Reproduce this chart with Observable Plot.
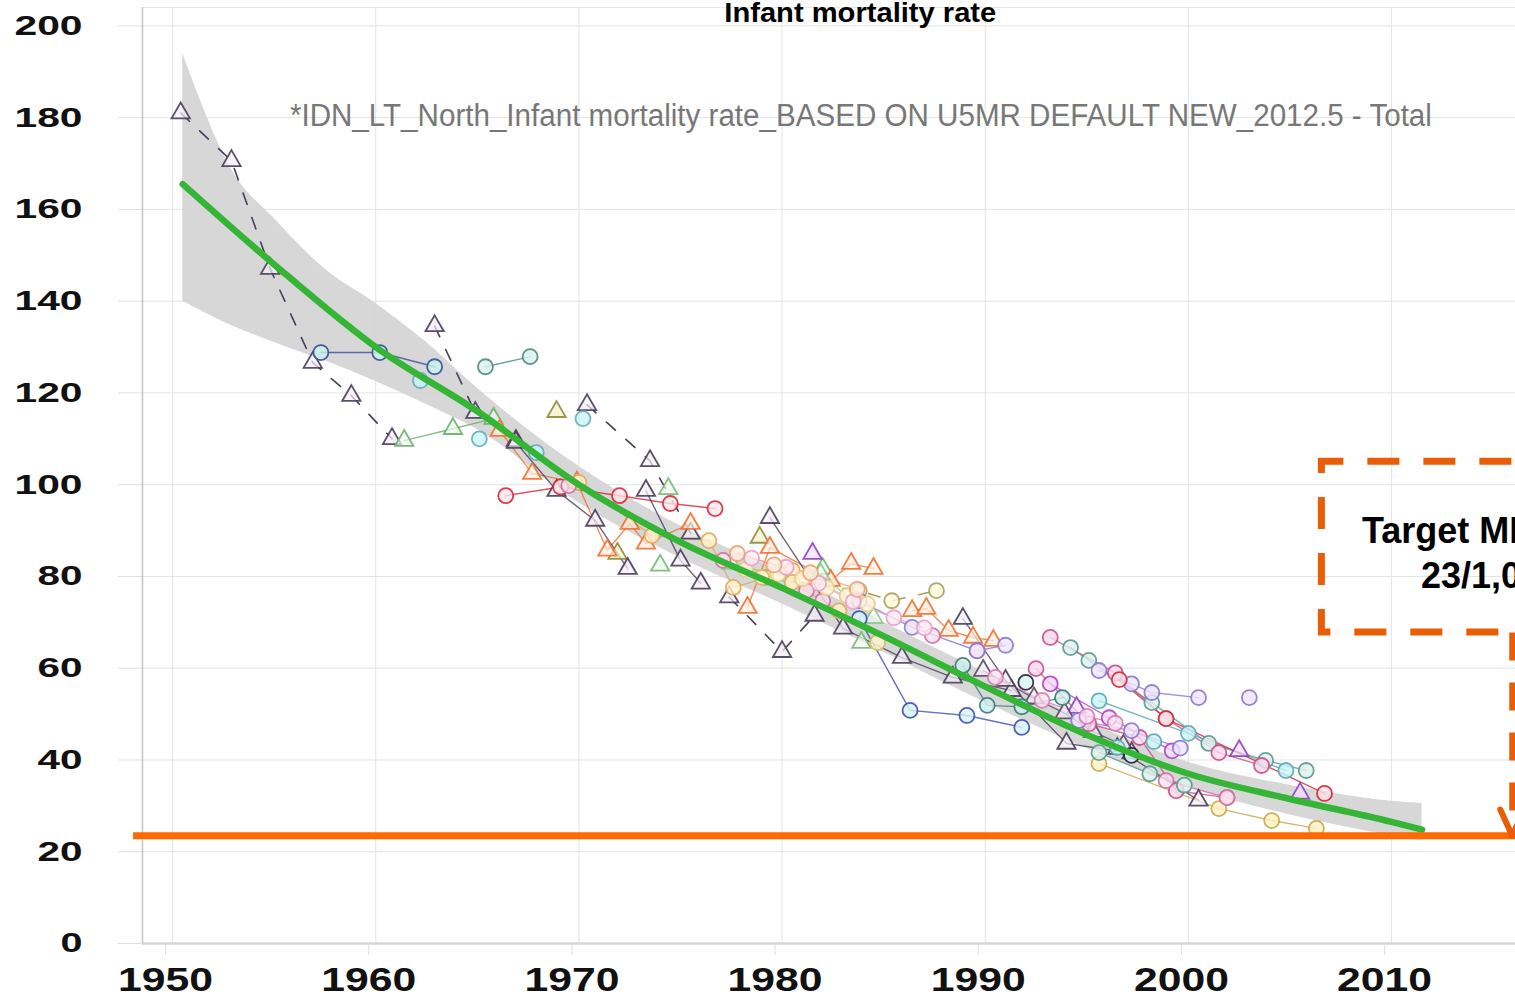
<!DOCTYPE html>
<html>
<head>
<meta charset="utf-8">
<script src="https://cdn.jsdelivr.net/npm/d3@7"></script>
<script src="https://cdn.jsdelivr.net/npm/@observablehq/plot@0.6"></script>
<style>
  html, body { margin: 0; padding: 0; background: #fff; overflow: hidden; }
  #chart { position: absolute; left: 0; top: 0; }
</style>
</head>
<body>
<div id="chart"></div>
<script>
// ---------- axis ticks ----------
const xTicks = [1950, 1960, 1970, 1980, 1990, 2000, 2010];
const yTicks = [0, 20, 40, 60, 80, 100, 120, 140, 160, 180, 200];

// ---------- texts ----------
const titleText = "Infant mortality rate";
const subtitleText = "*IDN_LT_North_Infant mortality rate_BASED ON U5MR DEFAULT NEW_2012.5 - Total";
const targetLines = ["Target MDG", "23/1,000"];

// ---------- fitted trend (green) ----------
const trendYears  = [1950.5, 1955, 1960, 1965, 1970, 1975, 1980, 1985, 1990, 1995, 2000, 2005, 2010, 2011.5];
const trendValues = [165.5, 148, 130, 116, 100, 87.5, 77.5, 67, 56, 45.5, 37, 31.5, 26.5, 24.8];

// ---------- uncertainty band ----------
const bandYears = [1950.5, 1953, 1955, 1957.5, 1960, 1962.5, 1965, 1970, 1975, 1980, 1985, 1990, 1995, 2000, 2005, 2010, 2011.5];
const bandLow   = [140, 134.5, 131, 127, 122.5, 117.5, 112, 96, 84, 74, 63.5, 52.5, 42.5, 34, 28, 23.5, 22.4];
const bandHigh  = [194, 168, 158, 147, 139.5, 131, 121, 104, 91, 81, 70, 59, 48.5, 39.5, 34.5, 31, 30.5];

// ---------- target ----------
const targetValue = 23.5;
const targetLineYears = [1948.08, 2016.2];
const targetBoxYears = [2006.57, 2017.5];
const targetBoxValues = [67.76, 105.0];
const targetArrowYear = 2015.94;
const arrowHeadYears = [2015.35, 2016.53];
const arrowHeadValue = 29.2;

// ---------- survey series: [year, value] ----------
const indirectA = [[1950.4,181.0],[1952.9,170.6],[1954.8,147.1],[1956.9,126.6],[1958.8,119.4],[1960.8,110.0]];
const indirectB = [[1962.9,134.6],[1964.9,115.7],[1966.9,109.6]];
const indirectC = [[1970.4,117.4],[1973.5,105.2],[1975.5,89.4]];
const indirectD = [[1977.4,75.5],[1980.0,63.6],[1981.6,71.5]];
const oliveTri  = [[1968.9,115.9],[1971.9,85.0],[1978.9,88.5]];
const blueCyan  = [[1957.3,128.8],[1960.2,128.8],[1962.9,125.7]];
const tealA     = [[1965.4,125.7],[1967.6,127.9]];
const cyanA     = [[1962.2,122.7],[1965.1,110.0],[1967.9,107.0],[1970.2,114.4]];
const greenTriA = [[1961.4,109.6],[1963.8,112.2],[1965.8,114.4]];
const redA      = [[1966.4,97.6],[1969.1,99.5],[1972.0,97.6],[1974.5,95.9],[1976.7,94.8]];
const orangeTriA= [[1966.1,111.8],[1967.7,102.4],[1969.9,100.5],[1971.4,85.7],[1972.5,91.5],[1973.3,87.2],[1975.5,91.5]];
const darkTriA  = [[1966.9,109.2],[1968.9,98.7],[1970.8,92.2],[1972.4,81.7]];
const darkTriB  = [[1973.3,98.7],[1975.0,83.5],[1976.0,78.5]];
const creamA    = [[1970.0,100.5],[1973.6,88.9],[1976.4,87.8],[1977.6,77.6],[1980.5,81.3],[1980.5,78.7],[1982.8,72.5]];
const pinkA     = [[1969.5,99.8],[1977.1,83.5],[1981.2,76.9],[1982.0,74.7],[1987.4,67.1],[1989.6,63.8]];
const greenTriB = [[1974.0,82.4],[1974.4,99.1],[1982.0,81.7],[1983.9,65.6]];
const orangeTriB= [[1978.3,73.2],[1979.4,86.3],[1982.4,79.1],[1983.4,82.8],[1984.5,81.7]];
const orangeTriC= [[1986.4,72.5],[1987.1,73.0],[1988.2,68.2],[1989.4,66.7],[1990.4,66.0]];
const darkTriC  = [[1979.4,92.8],[1983.0,68.7],[1985.9,62.3],[1988.4,58.0],[1991.3,55.1]];
const darkTriD  = [[1988.9,70.8],[1991.0,57.3],[1994.0,43.6],[1997.2,41.5]];
const purpleTri = [[1981.5,85.0],[1994.5,51.4],[2002.5,42.0],[2005.5,32.7]];
const oliveCirc = [[1979.2,79.8],[1983.8,76.9],[1985.4,74.7],[1987.6,76.9]];
const lilacA    = [[1983.8,74.7],[1986.4,68.9],[1989.6,63.8],[1991.0,65.0]];
const blueB     = [[1983.8,70.8],[1986.3,50.8],[1989.1,49.7],[1991.8,47.1]];
const tealB     = [[1988.9,60.6],[1990.1,51.9],[1991.8,51.6],[1993.8,53.6]];
const creamB    = [[1984.7,65.6],[1979.0,79.8]];
const darkCirc  = [[1992.0,56.9],[1997.2,41.0]];
const pinkB     = [[1992.5,59.9],[1995.1,47.9],[1997.6,44.9],[1999.4,33.3],[2001.9,31.8]];
const tealUpper = [[1994.2,64.5],[1995.1,61.7],[1998.2,52.5],[2001.0,43.6],[2003.8,39.9],[2005.8,37.7]];
const pinkUpper = [[1993.2,66.7],[1996.4,59.0],[1998.9,49.0],[2001.5,41.6],[2003.6,38.8]];
const lilacUpper= [[1995.6,59.5],[1997.2,56.6],[1998.2,54.7],[2000.5,53.6]];
const lilacLone = [[2003.0,53.6]];
const cyanUpper = [[1995.6,52.9],[2000.0,45.8],[2004.8,37.7]];
const redB      = [[1996.6,57.5],[1998.9,49.0],[2006.7,32.7]];
const creamC    = [[1995.6,39.2],[2001.5,29.4],[2004.1,26.8],[2006.3,25.1]];
const tealLower = [[1995.6,41.6],[1998.1,37.0],[1999.8,34.5]];
const pinkLower = [[1998.9,35.5],[2001.9,31.8]];
const darkTriE  = [[1996.5,42.5],[2000.5,31.2]];
const magentaMid= [[1993.2,56.6],[1996.1,49.2],[1999.2,42.0]];
const lilacMid  = [[1994.6,48.6],[1997.2,46.4],[1999.6,42.6]];
const cyanMid   = [[1996.5,42.7],[1998.3,44.0]];
const creamD    = [[1978.2,81.5],[1979.8,80.5],[1981.0,79.5],[1982.2,77.5],[1983.2,75.8],[1984.2,74.0]];
const pinkD     = [[1978.5,84.0],[1980.2,82.0],[1981.8,78.5],[1983.5,74.5],[1985.5,71.0],[1987.0,68.8]];
const greenTriD = [[1977.5,82.8],[1979.8,80.2],[1981.9,80.5],[1984.5,71.0]];
const orangeCirc= [[1977.8,85.0],[1979.6,82.5],[1981.4,80.8],[1983.7,77.2]];
const darkTriF  = [[1989.9,59.5],[1992.4,53.5],[1993.9,50.2],[1995.3,46.2],[1996.8,43.2]];
const pinkE     = [[1990.5,58.0],[1992.8,53.0],[1995.0,49.5],[1996.4,48.0]];

// ---------- series styles ----------
const seriesDefs = [
  {name:"indirectA", data:indirectA, sym:"triangle", color:"#4b3d5a", fill:"#f4eef8", line:"dashed"},
  {name:"indirectB", data:indirectB, sym:"triangle", color:"#4b3d5a", fill:"#f4eef8", line:"dashed"},
  {name:"indirectC", data:indirectC, sym:"triangle", color:"#4b3d5a", fill:"#f4eef8", line:"dashed"},
  {name:"indirectD", data:indirectD, sym:"triangle", color:"#4b3d5a", fill:"#f4eef8", line:"dashed"},
  {name:"oliveTri", data:oliveTri, sym:"triangle", color:"#8f8a3a", fill:"#f4f0c8", line:"none"},
  {name:"blueCyan", data:blueCyan, sym:"circle", color:"#3a4f9a", fill:"#c8f4ee", line:"solid"},
  {name:"tealA", data:tealA, sym:"circle", color:"#4a8a80", fill:"#d8f0ec", line:"solid"},
  {name:"cyanA", data:cyanA, sym:"circle", color:"#6aaab8", fill:"#c8f4f4", line:"none"},
  {name:"greenTriA", data:greenTriA, sym:"triangle", color:"#6aae6a", fill:"#eef8ee", line:"solid"},
  {name:"redA", data:redA, sym:"circle", color:"#d8283a", fill:"#fde6ea", line:"solid"},
  {name:"orangeTriA", data:orangeTriA, sym:"triangle", color:"#f07030", fill:"#fff0e0", line:"solid"},
  {name:"darkTriA", data:darkTriA, sym:"triangle", color:"#4b3d5a", fill:"#f4eef8", line:"solid"},
  {name:"darkTriB", data:darkTriB, sym:"triangle", color:"#4b3d5a", fill:"#f4eef8", line:"solid"},
  {name:"creamA", data:creamA, sym:"circle", color:"#e0a860", fill:"#fff4cc", line:"solid"},
  {name:"pinkA", data:pinkA, sym:"circle", color:"#d070a0", fill:"#fbe0f0", line:"none"},
  {name:"greenTriB", data:greenTriB, sym:"triangle", color:"#78b878", fill:"#eef8ee", line:"none"},
  {name:"orangeTriB", data:orangeTriB, sym:"triangle", color:"#f07030", fill:"#fff0e0", line:"solid"},
  {name:"orangeTriC", data:orangeTriC, sym:"triangle", color:"#f07030", fill:"#fff0e0", line:"solid"},
  {name:"darkTriC", data:darkTriC, sym:"triangle", color:"#4b3d5a", fill:"#f4eef8", line:"solid"},
  {name:"darkTriD", data:darkTriD, sym:"triangle", color:"#4b3d5a", fill:"#f4eef8", line:"solid"},
  {name:"purpleTri", data:purpleTri, sym:"triangle", color:"#9040c0", fill:"#f2e0ff", line:"none"},
  {name:"oliveCirc", data:oliveCirc, sym:"circle", color:"#a8a060", fill:"#fff8d8", line:"dashed"},
  {name:"lilacA", data:lilacA, sym:"circle", color:"#8878d0", fill:"#efe6ff", line:"solid"},
  {name:"blueB", data:blueB, sym:"circle", color:"#3a50b0", fill:"#d8f4f8", line:"solid"},
  {name:"tealB", data:tealB, sym:"circle", color:"#3a7a7a", fill:"#d0eeee", line:"solid"},
  {name:"creamB", data:creamB, sym:"circle", color:"#d8b860", fill:"#fff6cc", line:"none"},
  {name:"darkCirc", data:darkCirc, sym:"circle", color:"#202030", fill:"#d8f4f4", line:"none"},
  {name:"pinkB", data:pinkB, sym:"circle", color:"#c8508a", fill:"#f9d8ec", line:"solid"},
  {name:"tealUpper", data:tealUpper, sym:"circle", color:"#5a9a90", fill:"#dff0ee", line:"solid"},
  {name:"pinkUpper", data:pinkUpper, sym:"circle", color:"#c8508a", fill:"#f9d8ec", line:"solid"},
  {name:"lilacUpper", data:lilacUpper, sym:"circle", color:"#8878d0", fill:"#efe6ff", line:"solid"},
  {name:"lilacLone", data:lilacLone, sym:"circle", color:"#8878d0", fill:"#efe6ff", line:"none"},
  {name:"cyanUpper", data:cyanUpper, sym:"circle", color:"#5aa8b8", fill:"#c8f4f4", line:"solid"},
  {name:"redB", data:redB, sym:"circle", color:"#d02838", fill:"#fde0e4", line:"solid"},
  {name:"creamC", data:creamC, sym:"circle", color:"#c8a850", fill:"#fff3c0", line:"solid"},
  {name:"tealLower", data:tealLower, sym:"circle", color:"#5a9a90", fill:"#dff0ee", line:"solid"},
  {name:"pinkLower", data:pinkLower, sym:"circle", color:"#d070a0", fill:"#fbe0f0", line:"solid"},
  {name:"darkTriE", data:darkTriE, sym:"triangle", color:"#4b3d5a", fill:"#f4eef8", line:"solid"},
  {name:"magentaMid", data:magentaMid, sym:"circle", color:"#b040c8", fill:"#f2d8ff", line:"solid"},
  {name:"lilacMid", data:lilacMid, sym:"circle", color:"#8878d0", fill:"#efe6ff", line:"solid"},
  {name:"cyanMid", data:cyanMid, sym:"circle", color:"#5aa8b8", fill:"#c8f4f4", line:"none"},
  {name:"creamD", data:creamD, sym:"circle", color:"#e8c888", fill:"#fff6d6", line:"solid"},
  {name:"pinkD", data:pinkD, sym:"circle", color:"#e8a0c8", fill:"#fdeaf4", line:"solid"},
  {name:"greenTriD", data:greenTriD, sym:"triangle", color:"#90c890", fill:"#f0faf0", line:"solid"},
  {name:"orangeCirc", data:orangeCirc, sym:"circle", color:"#f0a070", fill:"#fff0e2", line:"solid"},
  {name:"darkTriF", data:darkTriF, sym:"triangle", color:"#5a4a62", fill:"#f4eef8", line:"solid"},
  {name:"pinkE", data:pinkE, sym:"circle", color:"#d878b0", fill:"#fbe2f2", line:"solid"}
];

// ---------- build tables ----------
const rows = seriesDefs.flatMap(s => s.data.map(([year, value]) => ({
  series: s.name, year, value, sym: s.sym, color: s.color, fill: s.fill, line: s.line
})));
const trend = trendYears.map((year, i) => ({year, value: trendValues[i]}));
const band = bandYears.map((year, i) => ({year, lo: bandLow[i], hi: bandHigh[i]}));
const arrowHead = arrowHeadYears.map(year => ({year, value: arrowHeadValue}));

const orange = "#ff6a00";
const orangeDark = "#e85d05";

const chart = Plot.plot({
  width: 1515,
  height: 997,
  marginLeft: 142,
  marginRight: 0,
  marginTop: 7,
  marginBottom: 54,
  style: {fontFamily: "Liberation Sans, Arial, sans-serif", fontSize: "12px", background: "#fff", overflow: "visible"},
  x: {domain: [1948.52, 2016.1]},
  y: {domain: [0, 204]},
  color: {type: "identity"},
  marks: [
    Plot.gridX(xTicks, {stroke: "#e4e4e4", strokeOpacity: 1}),
    Plot.gridY(yTicks, {stroke: "#e4e4e4", strokeOpacity: 1}),
    Plot.ruleY([204], {stroke: "#e8e8e8"}),
    Plot.axisY(yTicks, {tickSize: 24, tickPadding: 36, fontSize: 28, fontWeight: "bold", stroke: "#e0e0e0", fill: "#111", label: null, tickFormat: d => String(d)}),
    Plot.axisX(xTicks, {tickSize: 12, tickPadding: 12, fontSize: 33, fontWeight: "bold", stroke: "#e0e0e0", fill: "#111", dx: -7, label: null, tickFormat: d => String(d)}),
    Plot.ruleY([0], {stroke: "#d6d6d6", strokeWidth: 2.5}),
    Plot.ruleX([1948.52], {stroke: "#c4c4c4", strokeWidth: 1.5, y1: 0, y2: 204}),
    Plot.areaY(band, {x: "year", y1: "lo", y2: "hi", fill: "#d3d3d3", fillOpacity: 0.9, curve: "monotone-x"}),
    Plot.line(rows.filter(d => d.line === "dashed"), {x: "year", y: "value", z: "series", stroke: "color", strokeWidth: 1.6, strokeDasharray: "12,14"}),
    Plot.line(rows.filter(d => d.line === "solid"), {x: "year", y: "value", z: "series", stroke: "color", strokeWidth: 1.4, strokeOpacity: 0.8}),
    Plot.dot(rows.filter(d => d.sym === "triangle"), {x: "year", y: "value", symbol: "triangle", r: 6.8, stroke: "color", fill: "fill", fillOpacity: 0.7, strokeWidth: 1.8, strokeOpacity: 0.9}),
    Plot.dot(rows.filter(d => d.sym === "circle"), {x: "year", y: "value", symbol: "circle", r: 7.5, stroke: "color", fill: "fill", fillOpacity: 0.8, strokeWidth: 1.8, strokeOpacity: 0.9}),
    Plot.line(trend, {x: "year", y: "value", stroke: "#35b535", strokeWidth: 6.5, curve: "monotone-x"}),
    Plot.ruleY([targetValue], {x1: targetLineYears[0], x2: targetLineYears[1], stroke: orange, strokeWidth: 7}),
    Plot.rect([0], {x1: targetBoxYears[0], x2: targetBoxYears[1], y1: targetBoxValues[0], y2: targetBoxValues[1], stroke: orangeDark, strokeWidth: 7, fill: "none", strokeDasharray: "32,24", strokeDashoffset: 10}),
    Plot.link([0], {x1: targetArrowYear, x2: targetArrowYear, y1: targetBoxValues[0], y2: targetValue + 1, stroke: orangeDark, strokeWidth: 6, strokeDasharray: "28,22"}),
    Plot.link(arrowHead, {x1: "year", y1: "value", x2: targetArrowYear, y2: targetValue, stroke: orangeDark, strokeWidth: 6, strokeLinecap: "round"}),
    Plot.text([titleText], {x: 1983.85, y: 202.8, text: d => d, fontSize: 28, fontWeight: "bold", fill: "#000"}),
    Plot.text([subtitleText], {x: 1983.88, y: 180.4, text: d => d, fontSize: 31, fill: "#777"}),
    Plot.text([targetLines[0]], {x: 2008.54, y: 89.7, text: d => d, fontSize: 36, fontWeight: "bold", fill: "#000", textAnchor: "start"}),
    Plot.text([targetLines[1]], {x: 2011.45, y: 80.1, text: d => d, fontSize: 36, fontWeight: "bold", fill: "#000", textAnchor: "start"})
  ]
});

document.getElementById("chart").appendChild(chart);

// stretch tick labels / titles horizontally like the reference rendering
const setLen = (t, len) => {
  t.setAttribute("textLength", len);
  t.setAttribute("lengthAdjust", "spacingAndGlyphs");
};
chart.querySelectorAll('g[aria-label="y-axis tick label"] text').forEach(t => setLen(t, 23 * t.textContent.length - 1));
chart.querySelectorAll('g[aria-label="x-axis tick label"] text').forEach(t => setLen(t, 95));
chart.querySelectorAll('text').forEach(t => {
  if (t.textContent === titleText) setLen(t, 272);
  if (t.textContent === subtitleText) setLen(t, 1142);
});
</script>
</body>
</html>
